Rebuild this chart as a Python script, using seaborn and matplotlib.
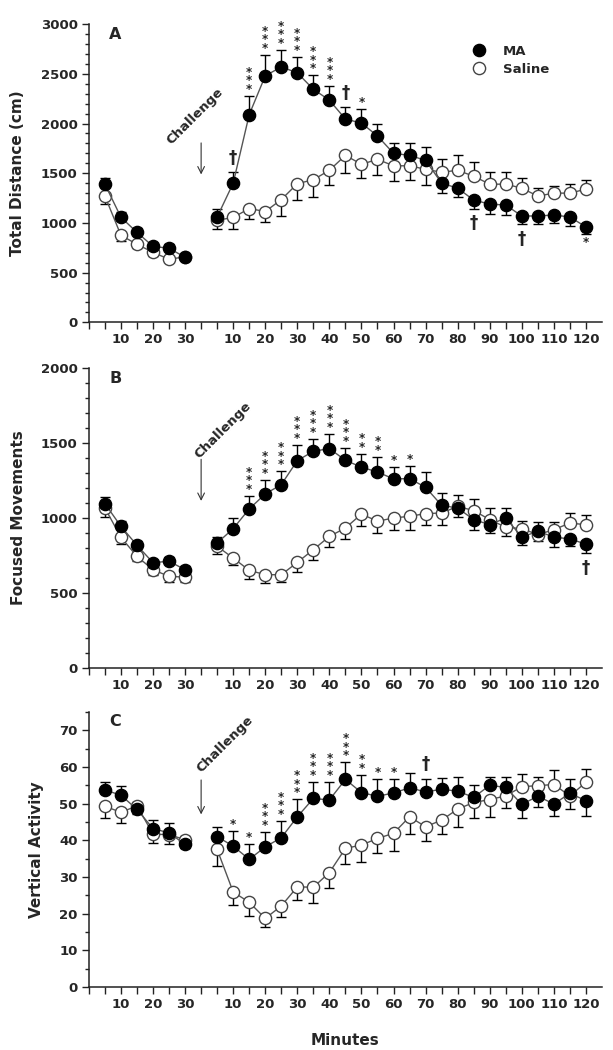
import matplotlib
matplotlib.use("Agg")
import matplotlib.pyplot as plt
from matplotlib.lines import Line2D
from matplotlib.ticker import MultipleLocator
import numpy as np
import seaborn as sns

sns.set_style("ticks")
plt.rcParams['font.family'] = ['DejaVu Sans']
plt.rcParams['font.weight'] = 'bold'

# minutes (baseline session, then challenge session)
base_min = [5, 10, 15, 20, 25, 30]
chal_min = list(range(5, 125, 5))

# ---- panel A: total distance (cm) ----
dist_ma_base = [1390, 1057, 905, 765, 745, 655]
dist_ma_base_err = [60, 50, 40, 35, 40, 20]
dist_sal_base = [1270, 876, 785, 705, 634, 660]
dist_sal_base_err = [80, 57, 40, 40, 25, 20]
dist_ma_chal = [1060, 1400, 2090, 2480, 2570, 2510, 2345, 2235, 2045, 2005, 1875, 1700,
                1680, 1630, 1400, 1350, 1230, 1190, 1180, 1070, 1070, 1080, 1060, 960]
dist_ma_chal_err = [78, 110, 190, 210, 170, 160, 140, 145, 120, 145, 120, 100,
                    120, 135, 100, 90, 85, 95, 105, 85, 85, 80, 95, 75]
dist_sal_chal = [1027, 1055, 1145, 1115, 1235, 1395, 1435, 1530, 1680, 1590, 1640, 1575,
                 1575, 1540, 1510, 1530, 1470, 1390, 1390, 1350, 1270, 1300, 1300, 1340]
dist_sal_chal_err = [92, 115, 105, 105, 165, 165, 175, 150, 180, 140, 160, 155,
                     145, 160, 130, 150, 140, 120, 120, 100, 80, 70, 90, 90]
dist_sig = {10: '†', 15: '***', 20: '***', 25: '***', 30: '***', 35: '***', 40: '***',
            45: '†', 50: '*', 85: '†', 100: '†', 120: '*'}

# ---- panel B: focused movements ----
foc_ma_base = [1093, 942, 816, 700, 710, 653]
foc_ma_base_err = [47, 33, 26, 20, 30, 25]
foc_sal_base = [1064, 869, 742, 653, 609, 604]
foc_sal_base_err = [62, 42, 33, 33, 35, 35]
foc_ma_chal = [831, 927, 1058, 1158, 1220, 1380, 1442, 1460, 1382, 1336, 1304, 1258,
               1260, 1202, 1082, 1064, 987, 953, 998, 871, 909, 871, 858, 824]
foc_ma_chal_err = [40, 71, 89, 95, 89, 107, 85, 98, 82, 88, 100, 78,
                   82, 100, 82, 60, 67, 55, 66, 51, 60, 67, 47, 60]
foc_sal_chal = [809, 731, 649, 620, 620, 702, 787, 875, 931, 1024, 976, 998,
                1009, 1027, 1031, 1075, 1047, 987, 936, 927, 887, 920, 964, 953]
foc_sal_chal_err = [51, 44, 58, 56, 51, 66, 71, 71, 73, 77, 78, 78,
                    89, 78, 78, 74, 77, 77, 60, 49, 45, 49, 67, 63]
foc_sig = {15: '***', 20: '***', 25: '***', 30: '***', 35: '***', 40: '***', 45: '***',
           50: '**', 55: '**', 60: '*', 65: '*', 120: '†'}

# ---- panel C: vertical activity ----
vert_ma_base = [53.7, 52.3, 48.4, 43.2, 42.0, 38.9]
vert_ma_base_err = [2.2, 2.5, 1.3, 2.3, 2.8, 1.0]
vert_sal_base = [49.3, 47.6, 49.4, 41.7, 41.5, 40.2]
vert_sal_base_err = [3.2, 3.0, 1.1, 2.5, 2.5, 1.0]
vert_ma_chal = [41.0, 38.4, 34.8, 38.2, 40.7, 46.4, 51.4, 51.0, 56.6, 53.0, 52.0, 52.9,
                54.3, 53.2, 53.9, 53.4, 51.7, 55.0, 54.4, 49.8, 52.0, 49.9, 52.8, 50.8]
vert_ma_chal_err = [2.7, 4.2, 4.1, 4.1, 4.6, 4.8, 4.5, 4.9, 4.7, 4.8, 4.6, 3.8,
                    4.1, 3.6, 3.0, 3.8, 3.3, 2.2, 2.8, 3.7, 2.9, 3.3, 3.9, 4.2]
vert_sal_chal = [37.5, 25.9, 23.1, 18.7, 22.1, 27.3, 27.2, 31.2, 37.8, 38.7, 40.5, 41.9,
                 46.4, 43.7, 45.5, 48.5, 50.3, 51.1, 52.1, 54.6, 54.9, 55.2, 52.1, 55.8]
vert_sal_chal_err = [4.5, 3.6, 3.8, 2.4, 2.9, 3.6, 4.2, 4.3, 4.4, 4.5, 4.1, 4.8,
                     4.7, 3.8, 3.8, 4.8, 4.2, 4.8, 3.4, 3.4, 2.3, 3.9, 3.7, 3.5]
vert_sig = {10: '*', 15: '*', 20: '***', 25: '***', 30: '***', 35: '***', 40: '***',
            45: '***', 50: '**', 55: '*', 60: '*', 70: '†'}

base_ticks = [10, 20, 30]
chal_ticks = list(range(10, 130, 10))

LINE = '#555555'


def base_pos(m):
    return np.asarray(m, dtype=float) / 5


def chal_pos(m):
    return 7 + np.asarray(m, dtype=float) / 5


def one_segment(ax, pos, ma, ma_err, sal, sal_err):
    ma = np.asarray(ma, float)
    sal = np.asarray(sal, float)
    ma_err = np.asarray(ma_err, float)
    sal_err = np.asarray(sal_err, float)
    ma_up = ma >= sal
    # error bars point away from the other group
    ax.errorbar(pos, ma, yerr=[np.where(ma_up, 0, ma_err), np.where(ma_up, ma_err, 0)],
                fmt='none', ecolor='black', elinewidth=1, capsize=3.4, capthick=1, zorder=2)
    ax.errorbar(pos, sal, yerr=[np.where(ma_up, sal_err, 0), np.where(ma_up, 0, sal_err)],
                fmt='none', ecolor='black', elinewidth=1, capsize=3.4, capthick=1, zorder=2)
    sns.lineplot(x=pos, y=sal, ax=ax, color=LINE, linewidth=1, marker='o', markersize=8.8,
                 markerfacecolor='white', markeredgecolor='#444444', markeredgewidth=1,
                 zorder=3)
    sns.lineplot(x=pos, y=ma, ax=ax, color=LINE, linewidth=1, marker='o', markersize=8.8,
                 markerfacecolor='black', markeredgecolor='black', markeredgewidth=1,
                 zorder=4)
    return np.where(ma_up, ma + ma_err, ma - ma_err), ma_up


def draw_panel(ax, data, sig, ylim, major, minor, ylabel, letter, chal_xy, arrow):
    one_segment(ax, base_pos(base_min), *data[:4])
    ends, ups = one_segment(ax, chal_pos(chal_min), *data[4:])

    # significance marks on the MA bars
    for m, s in sig.items():
        i = chal_min.index(m)
        up = ups[i]
        if s == '†':
            ax.annotate(s, xy=(chal_pos(m), ends[i]), xytext=(0, 4 if up else -4),
                        textcoords='offset points', ha='center',
                        va='bottom' if up else 'top', fontsize=12, fontweight='bold')
        else:
            ax.annotate('\n'.join(s), xy=(chal_pos(m), ends[i]),
                        xytext=(0, 0 if up else -1), textcoords='offset points',
                        ha='center', va='bottom' if up else 'top', fontsize=8.5,
                        fontweight='bold', linespacing=0.55)

    ax.annotate('', xy=(7, arrow[1]), xytext=(7, arrow[0]),
                arrowprops=dict(arrowstyle='->', lw=0.8, color='#333333',
                                mutation_scale=12))
    ax.text(chal_xy[0], chal_xy[1], 'Challenge', rotation=45, ha='center', va='center',
            rotation_mode='anchor', fontsize=9.5, fontweight='bold')
    ax.text(0.04, 0.965, letter, transform=ax.transAxes, ha='left', va='center',
            fontsize=11.5, fontweight='bold')

    ax.set_xlim(0, 32)
    ax.set_ylim(*ylim)
    ax.set_xticks(np.arange(0, 32))
    labels = [''] * 32
    for t in base_ticks:
        labels[int(t / 5)] = str(t)
    for t in chal_ticks:
        labels[int(7 + t / 5)] = str(t)
    ax.set_xticklabels(labels)
    ax.yaxis.set_major_locator(MultipleLocator(major))
    ax.yaxis.set_minor_locator(MultipleLocator(minor))
    ax.tick_params(axis='both', which='major', direction='out', length=5, width=1,
                   labelsize=9.5, color='#222222', pad=3)
    ax.tick_params(axis='y', which='minor', direction='out', length=3, width=1,
                   color='#222222')
    for lab in ax.get_xticklabels() + ax.get_yticklabels():
        lab.set_fontweight('bold')
    ax.set_ylabel(ylabel, fontsize=11, fontweight='bold', labelpad=11)
    ax.set_xlabel('')
    for side in ['top', 'right']:
        ax.spines[side].set_visible(False)
    for side in ['left', 'bottom']:
        ax.spines[side].set_linewidth(1.1)
        ax.spines[side].set_color('#222222')


fig = plt.figure(figsize=(6.13, 10.5), dpi=100)
ax_a = fig.add_axes([0.145, 0.693, 0.837, 0.284])
ax_b = fig.add_axes([0.145, 0.364, 0.837, 0.286])
ax_c = fig.add_axes([0.145, 0.060, 0.837, 0.262])

draw_panel(ax_a, [dist_ma_base, dist_ma_base_err, dist_sal_base, dist_sal_base_err,
                  dist_ma_chal, dist_ma_chal_err, dist_sal_chal, dist_sal_chal_err],
           dist_sig, (0, 3000), 500, 100, 'Total Distance (cm)', 'A',
           (6.6, 2075), (1833, 1460))
draw_panel(ax_b, [foc_ma_base, foc_ma_base_err, foc_sal_base, foc_sal_base_err,
                  foc_ma_chal, foc_ma_chal_err, foc_sal_chal, foc_sal_chal_err],
           foc_sig, (0, 2000), 500, 100, 'Focused Movements', 'B',
           (8.35, 1580), (1407, 1093))
draw_panel(ax_c, [vert_ma_base, vert_ma_base_err, vert_sal_base, vert_sal_base_err,
                  vert_ma_chal, vert_ma_chal_err, vert_sal_chal, vert_sal_chal_err],
           vert_sig, (0, 75), 10, 5, 'Vertical Activity', 'C',
           (8.47, 66.2), (57.2, 46.3))
ax_c.set_xlabel('Minutes', fontsize=11, fontweight='bold', labelpad=16)

handles = [Line2D([], [], linestyle='none', marker='o', markersize=8.8,
                  markerfacecolor='black', markeredgecolor='black'),
           Line2D([], [], linestyle='none', marker='o', markersize=8.8,
                  markerfacecolor='white', markeredgecolor='#444444')]
ax_a.legend(handles, ['MA', 'Saline'], loc='upper left', bbox_to_anchor=(0.725, 0.97),
            frameon=False, handlelength=1.0, handletextpad=1.3, labelspacing=0.35,
            prop={'weight': 'bold', 'size': 9.5})

fig.savefig('out.png', dpi=100)
